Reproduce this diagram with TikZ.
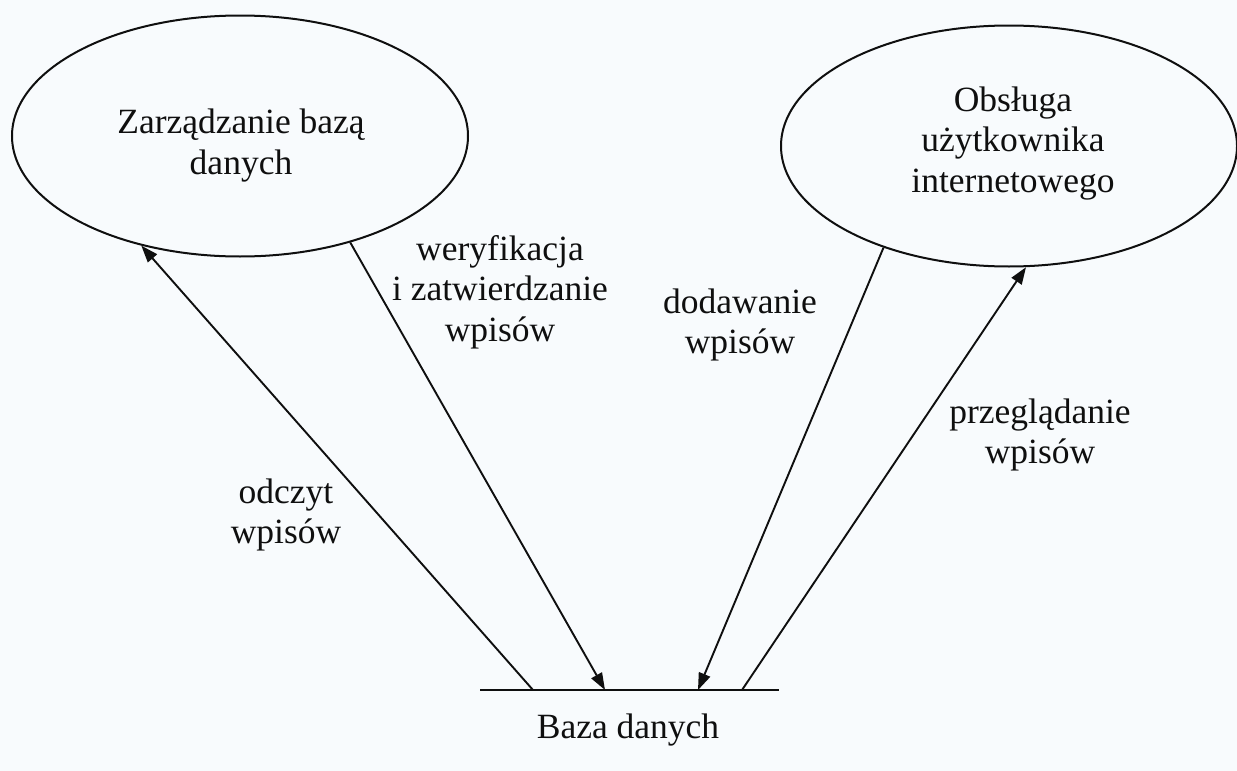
\documentclass[tikz,border=0pt]{standalone}
\usepackage{fontspec}
\setmainfont{Liberation Serif}
\usetikzlibrary{shapes.geometric,arrows.meta}
\definecolor{paper}{RGB}{248,251,253}
\definecolor{ink}{RGB}{15,15,15}
\tikzset{
  usecase/.style={ellipse, draw=ink, line width=2pt, minimum width=456pt, minimum height=241pt, inner sep=0pt},
  lbl/.style={align=center, anchor=base, inner sep=0pt, font=\fontsize{35.5}{40.5}\selectfont, text=ink},
  flow/.style={draw=ink, line width=1.9pt, -{Triangle[length=17pt,width=12pt]}},
  baseline/.style={draw=ink, line width=2.5pt}
}
\begin{document}
\begin{tikzpicture}[x=1pt,y=-1pt]
\fill[paper] (0,0) rectangle (1237,771);
\useasboundingbox (0,0) rectangle (1237,771);
% use cases
\node[usecase] (zbd) at (240,136) {};
\node[usecase] (obs) at (1009,146) {};
\node[lbl] (zbdt) at (241,174) {Zarządzanie bazą\\danych};
\node[lbl] (obst) at (1013,192) {Obsługa\\użytkownika\\internetowego};
% data store
\coordinate (b1) at (480,690);
\coordinate (b2) at (779,690);
\draw[baseline] (b1) -- (b2);
\node[lbl] (baza) at (628,738) {Baza danych};
\coordinate (p1) at (533,690);
\coordinate (p2) at (605,690);
\coordinate (p3) at (698,690);
\coordinate (p4) at (742,690);
% flows
\draw[flow] (p1) -- (zbd.228.6);
\draw[flow] (zbd.316.3) -- (p2);
\draw[flow] (obs.219.2) -- (p3);
\draw[flow] (p4) -- (obs.278.3);
% labels
\node[lbl] (l1) at (286,543.5) {odczyt\\wpisów};
\node[lbl] (l2) at (500,341) {weryfikacja\\i zatwierdzanie\\wpisów};
\node[lbl] (l3) at (740,353.5) {dodawanie\\wpisów};
\node[lbl] (l4) at (1040,463.5) {przeglądanie\\wpisów};
\end{tikzpicture}
\end{document}
